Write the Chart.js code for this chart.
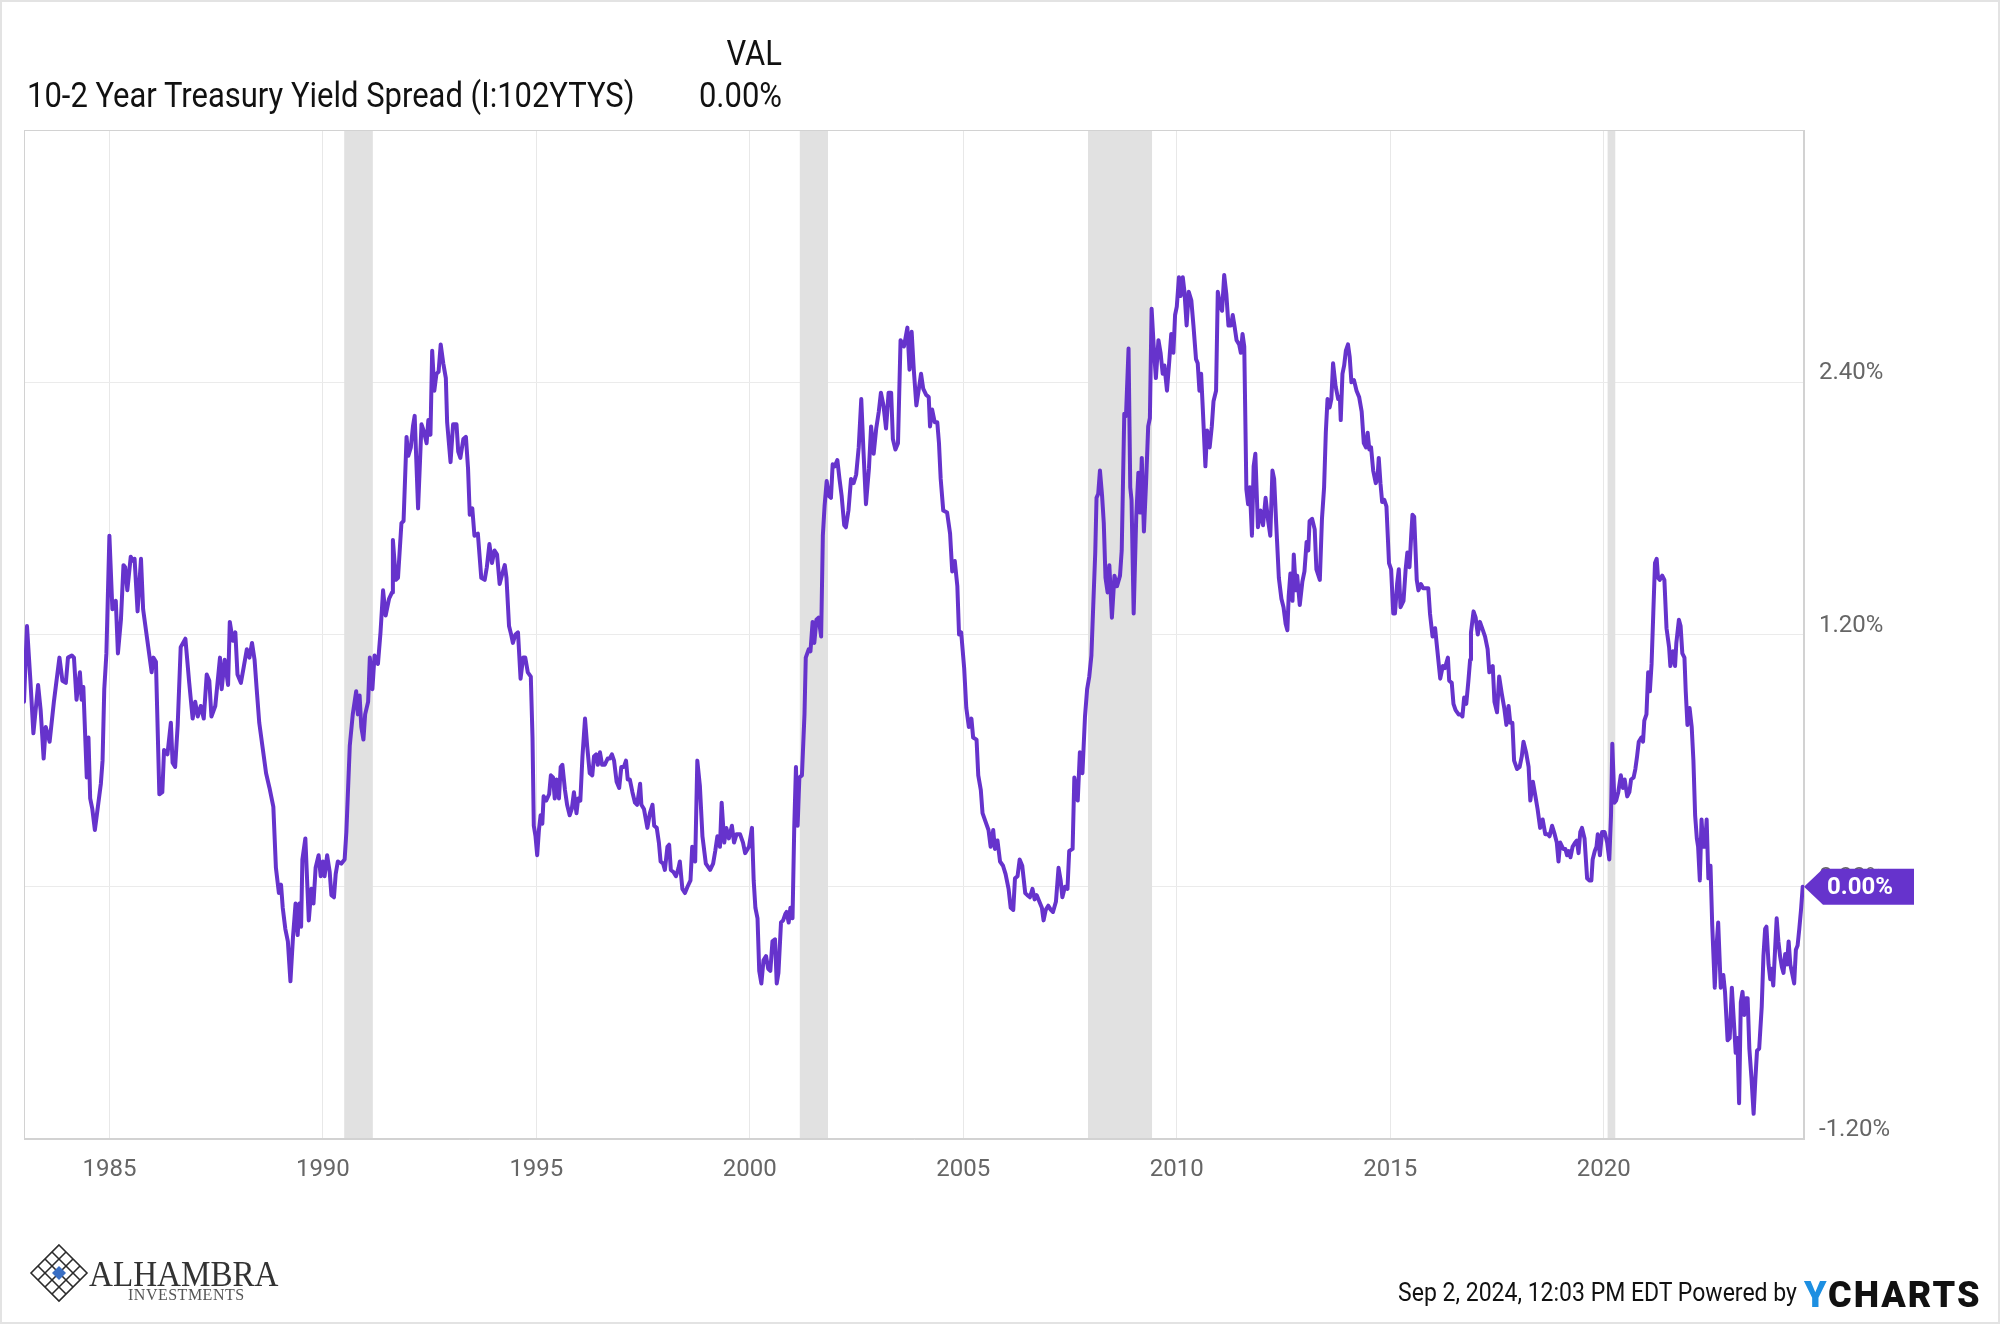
<!DOCTYPE html>
<html>
<head>
<meta charset="utf-8">
<script src="https://cdn.jsdelivr.net/npm/chart.js@4.4.1/dist/chart.umd.min.js"></script>
<style>
html,body{margin:0;padding:0;background:#fff;}
#wrap{position:relative;width:2000px;height:1324px;overflow:hidden;background:#fff;}
#c{position:absolute;left:0;top:0;}
.t{position:absolute;font-family:Roboto,'Noto Sans',sans-serif;line-height:1;white-space:nowrap;color:#111;}
.cond-l{transform:scaleX(0.885);transform-origin:left center;}
.cond-r{transform:scaleX(0.885);transform-origin:right center;text-align:right;}
#frame{position:absolute;left:0;top:0;width:2000px;height:1324px;box-sizing:border-box;border:2px solid #e3e3e3;pointer-events:none;}
.serif{position:absolute;font-family:'Liberation Serif','DejaVu Serif',serif;line-height:1;white-space:nowrap;}
</style>
</head>
<body>
<div id="wrap">
  <canvas id="c" width="2000" height="1324"></canvas>
  <div class="t cond-r" style="left:0;width:782px;top:36px;font-size:35px;">VAL</div>
  <div class="t cond-l" id="seriesName" style="left:27px;top:78px;font-size:35px;"></div>
  <div class="t cond-r" id="seriesVal" style="left:0;width:782px;top:78px;font-size:35px;"></div>

  <svg style="position:absolute;left:0;top:0" width="120" height="1324" viewBox="0 0 120 1324">
    <g stroke="#2b2b2b" stroke-width="1.6" fill="none">
      <path d="M59 1245 L87 1273 L59 1301 L31 1273 Z"/>
      <path d="M52 1252 L80 1280 M45 1259 L73 1287 M38 1266 L66 1294"/>
      <path d="M66 1252 L38 1280 M73 1259 L45 1287 M80 1266 L52 1294"/>
    </g>
    <path d="M59 1266 L66 1273 L59 1280 L52 1273 Z" fill="#3a6fc4"/>
  </svg>
  <div class="serif" style="left:89px;top:1256px;font-size:36px;color:#333;transform:scaleX(0.92);transform-origin:left center;">ALHAMBRA</div>
  <div class="serif" style="left:128px;top:1287px;font-size:16px;color:#555;letter-spacing:0.5px;">INVESTMENTS</div>

  <div class="t cond-r" id="stamp" style="left:0;width:1797px;top:1279px;font-size:26px;"></div>
  <div class="t" style="left:1804px;top:1277px;font-size:36px;font-weight:900;letter-spacing:2px;"><span style="color:#1d8fe1">Y</span><span style="color:#111">CHARTS</span></div>
  <div id="frame"></div>
</div>
<script>
// ---- DATA ----
const seriesTitle = '10-2 Year Treasury Yield Spread (I:102YTYS)';
const stampText = 'Sep 2, 2024, 12:03 PM EDT Powered by';
const xTickYears = [1985, 1990, 1995, 2000, 2005, 2010, 2015, 2020];
const yTickValues = [-1.2, 0, 1.2, 2.4, 3.6];
const recessions = [[1990.50, 1991.17], [2001.17, 2001.83], [2007.92, 2009.42], [2020.09, 2020.27]];

// [decimal year, spread %]
const obs1980s = [
[1983.00,0.88],[1983.07,1.24],[1983.15,0.98],[1983.22,0.73],[1983.33,0.96],[1983.39,0.84],[1983.46,0.61],[1983.51,0.76],[1983.60,0.69],[1983.70,0.88],[1983.83,1.09],[1983.90,0.98],[1983.98,0.97],
[1984.03,1.09],[1984.12,1.10],[1984.17,1.09],[1984.23,0.89],[1984.31,1.02],[1984.35,0.89],[1984.39,0.95],[1984.47,0.52],[1984.51,0.71],[1984.55,0.42],[1984.60,0.37],[1984.66,0.27],[1984.73,0.38],[1984.80,0.49],[1984.84,0.60],[1984.88,0.94],[1984.93,1.11],
[1985.00,1.67],[1985.07,1.32],[1985.15,1.36],[1985.20,1.11],[1985.27,1.27],[1985.33,1.53],[1985.37,1.52],[1985.42,1.41],[1985.50,1.57],[1985.56,1.55],[1985.59,1.56],[1985.66,1.31],[1985.74,1.56],[1985.79,1.32],[1985.89,1.17],[1985.99,1.02],
[1986.03,1.09],[1986.09,1.07],[1986.17,0.44],[1986.24,0.45],[1986.28,0.65],[1986.36,0.63],[1986.44,0.78],[1986.48,0.59],[1986.54,0.57],[1986.60,0.77],[1986.67,1.14],[1986.78,1.18],[1986.87,0.97],[1986.95,0.80],
[1987.01,0.88],[1987.07,0.81],[1987.14,0.86],[1987.21,0.80],[1987.28,1.01],[1987.34,0.98],[1987.39,0.81],[1987.48,0.86],[1987.59,1.09],[1987.63,0.94],[1987.70,1.08],[1987.78,0.96],[1987.82,1.26],[1987.89,1.17],[1987.95,1.21],
[1988.00,1.01],[1988.08,0.97],[1988.15,1.05],[1988.22,1.13],[1988.28,1.09],[1988.34,1.16],[1988.40,1.08],[1988.45,0.94],[1988.51,0.78],[1988.59,0.66],[1988.67,0.54],[1988.75,0.47],[1988.84,0.38],[1988.90,0.09],[1988.97,-0.03],
[1989.02,0.01],[1989.06,-0.10],[1989.12,-0.20],[1989.18,-0.26],[1989.24,-0.45],[1989.30,-0.24],[1989.36,-0.08],[1989.41,-0.23],[1989.45,-0.08],[1989.49,-0.19],[1989.52,0.13],[1989.59,0.23],[1989.67,-0.16],[1989.73,-0.01],[1989.78,-0.08],[1989.83,0.09],[1989.90,0.15],[1989.95,0.05]
];
const obs1990s = [
[1990.00,0.12],[1990.04,0.05],[1990.10,0.15],[1990.16,0.07],[1990.20,-0.04],[1990.26,-0.05],[1990.30,0.06],[1990.35,0.12],[1990.43,0.11],[1990.51,0.13],[1990.55,0.26],[1990.63,0.67],[1990.70,0.82],[1990.78,0.93],[1990.82,0.82],[1990.86,0.91],[1990.90,0.76],[1990.95,0.70],[1990.99,0.82],
[1991.06,0.88],[1991.10,1.09],[1991.16,0.94],[1991.21,1.10],[1991.29,1.06],[1991.35,1.21],[1991.41,1.41],[1991.47,1.29],[1991.55,1.37],[1991.62,1.40],[1991.64,1.65],[1991.71,1.46],[1991.76,1.47],[1991.84,1.73],[1991.89,1.74],[1991.96,2.14],
[1992.00,2.05],[1992.06,2.09],[1992.11,2.19],[1992.15,2.24],[1992.23,1.80],[1992.31,2.20],[1992.36,2.17],[1992.43,2.11],[1992.47,2.22],[1992.52,2.15],[1992.56,2.55],[1992.61,2.36],[1992.66,2.44],[1992.71,2.45],[1992.76,2.58],[1992.82,2.49],[1992.88,2.42],[1992.91,2.21],[1992.99,2.02],
[1993.05,2.20],[1993.13,2.20],[1993.17,2.07],[1993.22,2.04],[1993.29,2.13],[1993.35,2.14],[1993.40,1.99],[1993.44,1.77],[1993.50,1.80],[1993.55,1.67],[1993.63,1.68],[1993.71,1.47],[1993.79,1.46],[1993.84,1.52],[1993.90,1.63],[1993.96,1.54],
[1994.02,1.60],[1994.08,1.58],[1994.14,1.44],[1994.19,1.48],[1994.26,1.53],[1994.30,1.47],[1994.36,1.24],[1994.41,1.20],[1994.45,1.16],[1994.51,1.20],[1994.57,1.21],[1994.63,0.99],[1994.69,1.09],[1994.74,1.09],[1994.80,1.02],[1994.87,1.00],[1994.91,0.71],[1994.94,0.29],[1994.98,0.24],
[1995.02,0.15],[1995.06,0.27],[1995.10,0.34],[1995.14,0.30],[1995.17,0.43],[1995.23,0.41],[1995.30,0.44],[1995.34,0.53],[1995.39,0.52],[1995.43,0.42],[1995.47,0.51],[1995.53,0.42],[1995.57,0.57],[1995.61,0.58],[1995.67,0.46],[1995.72,0.39],[1995.78,0.34],[1995.83,0.37],[1995.88,0.45],[1995.94,0.35],[1995.98,0.42],
[1996.03,0.41],[1996.08,0.62],[1996.14,0.80],[1996.19,0.67],[1996.25,0.54],[1996.31,0.53],[1996.35,0.62],[1996.40,0.63],[1996.44,0.58],[1996.49,0.64],[1996.54,0.58],[1996.60,0.58],[1996.67,0.61],[1996.72,0.61],[1996.77,0.63],[1996.82,0.60],[1996.88,0.50],[1996.94,0.47],[1996.99,0.57],
[1997.05,0.57],[1997.10,0.60],[1997.14,0.51],[1997.19,0.51],[1997.25,0.45],[1997.31,0.40],[1997.36,0.39],[1997.43,0.49],[1997.46,0.39],[1997.52,0.37],[1997.60,0.28],[1997.66,0.35],[1997.72,0.39],[1997.76,0.29],[1997.82,0.28],[1997.87,0.21],[1997.91,0.12],[1997.97,0.11],
[1998.01,0.08],[1998.07,0.19],[1998.11,0.20],[1998.15,0.08],[1998.21,0.07],[1998.27,0.05],[1998.33,0.09],[1998.36,0.12],[1998.42,-0.01],[1998.48,-0.03],[1998.54,0.00],[1998.61,0.03],[1998.65,0.19],[1998.72,0.12],[1998.77,0.60],[1998.83,0.48],[1998.89,0.24],[1998.97,0.11],
[1999.07,0.08],[1999.14,0.11],[1999.19,0.17],[1999.24,0.24],[1999.30,0.19],[1999.34,0.40],[1999.40,0.21],[1999.45,0.28],[1999.51,0.23],[1999.58,0.29],[1999.63,0.21],[1999.69,0.25],[1999.77,0.25],[1999.84,0.21],[1999.89,0.16],[1999.98,0.19]
];
const obs2000s = [
[2000.05,0.28],[2000.09,0.03],[2000.13,-0.10],[2000.18,-0.15],[2000.22,-0.40],[2000.27,-0.46],[2000.32,-0.35],[2000.38,-0.33],[2000.43,-0.39],[2000.48,-0.40],[2000.53,-0.26],[2000.59,-0.25],[2000.63,-0.46],[2000.67,-0.41],[2000.73,-0.17],[2000.78,-0.16],[2000.83,-0.13],[2000.86,-0.12],[2000.91,-0.17],[2000.95,-0.10],
[2001.00,-0.15],[2001.04,0.28],[2001.08,0.57],[2001.12,0.29],[2001.16,0.52],[2001.22,0.53],[2001.28,0.82],[2001.31,1.09],[2001.38,1.13],[2001.42,1.12],[2001.47,1.26],[2001.51,1.16],[2001.56,1.27],[2001.61,1.28],[2001.67,1.19],[2001.71,1.67],[2001.75,1.81],[2001.80,1.93],[2001.85,1.86],[2001.90,1.85],[2001.94,2.01],[2001.99,2.00],
[2002.05,2.03],[2002.10,1.94],[2002.15,1.86],[2002.21,1.72],[2002.25,1.71],[2002.31,1.79],[2002.37,1.94],[2002.43,1.92],[2002.49,1.96],[2002.55,2.09],[2002.61,2.32],[2002.66,2.08],[2002.72,1.82],[2002.79,1.99],[2002.84,2.19],[2002.90,2.06],[2002.96,2.18],
[2003.02,2.26],[2003.07,2.35],[2003.13,2.29],[2003.19,2.18],[2003.25,2.35],[2003.31,2.35],[2003.35,2.13],[2003.41,2.08],[2003.47,2.11],[2003.53,2.60],[2003.61,2.57],[2003.69,2.66],[2003.74,2.46],[2003.79,2.64],[2003.84,2.46],[2003.90,2.29],[2003.96,2.37],
[2004.01,2.44],[2004.06,2.37],[2004.13,2.34],[2004.19,2.33],[2004.22,2.19],[2004.27,2.27],[2004.33,2.21],[2004.39,2.21],[2004.43,2.11],[2004.47,1.94],[2004.53,1.79],[2004.62,1.78],[2004.69,1.68],[2004.74,1.50],[2004.80,1.55],[2004.86,1.43],[2004.90,1.20],[2004.95,1.21],
[2005.02,1.04],[2005.07,0.85],[2005.13,0.76],[2005.19,0.80],[2005.23,0.71],[2005.31,0.70],[2005.35,0.53],[2005.41,0.46],[2005.45,0.35],[2005.52,0.31],[2005.59,0.27],[2005.64,0.19],[2005.70,0.27],[2005.74,0.18],[2005.80,0.22],[2005.86,0.12],[2005.93,0.10],[2005.99,0.06],
[2006.06,-0.01],[2006.11,-0.10],[2006.17,-0.11],[2006.21,0.04],[2006.27,0.05],[2006.32,0.13],[2006.38,0.10],[2006.45,-0.03],[2006.50,-0.04],[2006.56,-0.05],[2006.62,-0.01],[2006.67,-0.06],[2006.72,-0.04],[2006.78,-0.07],[2006.84,-0.10],[2006.88,-0.16],[2006.93,-0.11],[2006.99,-0.09],
[2007.05,-0.11],[2007.10,-0.12],[2007.17,-0.07],[2007.23,0.09],[2007.28,0.03],[2007.32,-0.05],[2007.38,0.00],[2007.44,-0.01],[2007.48,0.17],[2007.56,0.18],[2007.60,0.52],[2007.68,0.41],[2007.73,0.64],[2007.79,0.54],[2007.85,0.81],[2007.90,0.94],[2007.95,1.00],
[2008.00,1.10],[2008.04,1.32],[2008.09,1.59],[2008.12,1.85],[2008.16,1.87],[2008.20,1.98],[2008.25,1.86],[2008.29,1.73],[2008.33,1.47],[2008.38,1.40],[2008.42,1.53],[2008.48,1.28],[2008.54,1.48],[2008.60,1.43],[2008.67,1.48],[2008.71,1.60],[2008.77,2.25],[2008.81,2.24],[2008.87,2.56],[2008.91,1.90],[2008.94,1.84],[2008.99,1.30],
[2009.05,1.76],[2009.10,1.97],[2009.14,1.78],[2009.18,2.04],[2009.23,1.69],[2009.28,1.92],[2009.33,2.19],[2009.37,2.23],[2009.41,2.75],[2009.46,2.57],[2009.51,2.42],[2009.57,2.60],[2009.62,2.54],[2009.67,2.44],[2009.71,2.48],[2009.77,2.36],[2009.82,2.49],[2009.87,2.63],[2009.92,2.54],[2009.96,2.72]
];
const obs2010s = [
[2010.00,2.76],[2010.05,2.90],[2010.09,2.81],[2010.14,2.90],[2010.18,2.83],[2010.23,2.67],[2010.28,2.83],[2010.34,2.79],[2010.39,2.67],[2010.45,2.51],[2010.49,2.49],[2010.53,2.36],[2010.57,2.44],[2010.61,2.27],[2010.67,2.00],[2010.71,2.17],[2010.77,2.09],[2010.82,2.19],[2010.86,2.31],[2010.92,2.36],[2010.96,2.83],
[2011.02,2.76],[2011.06,2.74],[2011.11,2.91],[2011.16,2.82],[2011.21,2.67],[2011.27,2.67],[2011.31,2.72],[2011.35,2.67],[2011.40,2.60],[2011.46,2.58],[2011.50,2.54],[2011.54,2.63],[2011.58,2.57],[2011.63,1.89],[2011.67,1.82],[2011.71,1.90],[2011.76,1.67],[2011.80,2.00],[2011.84,2.06],[2011.90,1.71],[2011.96,1.79],
[2012.02,1.72],[2012.08,1.85],[2012.14,1.74],[2012.19,1.67],[2012.24,1.98],[2012.28,1.94],[2012.33,1.72],[2012.39,1.47],[2012.45,1.37],[2012.50,1.33],[2012.55,1.25],[2012.59,1.22],[2012.62,1.38],[2012.66,1.49],[2012.71,1.36],[2012.74,1.58],[2012.79,1.41],[2012.82,1.48],[2012.88,1.34],[2012.94,1.45],[2012.99,1.50],
[2013.04,1.64],[2013.08,1.60],[2013.11,1.74],[2013.17,1.75],[2013.23,1.70],[2013.27,1.51],[2013.35,1.46],[2013.40,1.75],[2013.45,1.90],[2013.49,2.16],[2013.53,2.32],[2013.58,2.28],[2013.62,2.32],[2013.66,2.49],[2013.72,2.38],[2013.78,2.32],[2013.82,2.33],[2013.84,2.22],[2013.88,2.44],[2013.92,2.48],[2013.96,2.55],
[2014.01,2.58],[2014.05,2.52],[2014.09,2.40],[2014.15,2.41],[2014.21,2.36],[2014.27,2.33],[2014.33,2.26],[2014.38,2.11],[2014.43,2.09],[2014.47,2.16],[2014.51,2.08],[2014.55,2.09],[2014.60,1.98],[2014.66,1.92],[2014.70,1.94],[2014.73,2.04],[2014.77,1.92],[2014.81,1.83],[2014.86,1.84],[2014.91,1.81],[2014.97,1.54],
[2015.02,1.51],[2015.07,1.30],[2015.11,1.30],[2015.16,1.44],[2015.20,1.51],[2015.24,1.33],[2015.31,1.36],[2015.36,1.51],[2015.40,1.59],[2015.45,1.52],[2015.49,1.67],[2015.52,1.77],[2015.56,1.76],[2015.62,1.46],[2015.66,1.41],[2015.72,1.44],[2015.77,1.42],[2015.84,1.42],[2015.89,1.42],[2015.93,1.30],[2015.99,1.19],
[2016.05,1.23],[2016.10,1.13],[2016.17,0.99],[2016.23,1.05],[2016.28,1.04],[2016.35,1.09],[2016.38,0.98],[2016.44,0.97],[2016.48,0.87],[2016.53,0.84],[2016.60,0.82],[2016.65,0.82],[2016.69,0.81],[2016.73,0.90],[2016.78,0.87],[2016.83,0.98],[2016.87,1.08],[2016.89,1.21],[2016.95,1.31],
[2017.00,1.28],[2017.05,1.20],[2017.10,1.26],[2017.17,1.22],[2017.22,1.19],[2017.28,1.13],[2017.32,1.02],[2017.36,1.04],[2017.40,1.05],[2017.44,0.88],[2017.50,0.83],[2017.55,1.00],[2017.61,0.92],[2017.67,0.85],[2017.72,0.77],[2017.77,0.86],[2017.81,0.78],[2017.86,0.78],[2017.90,0.60],[2017.97,0.56],
[2018.03,0.57],[2018.08,0.62],[2018.12,0.69],[2018.18,0.64],[2018.24,0.57],[2018.28,0.41],[2018.34,0.50],[2018.40,0.43],[2018.45,0.37],[2018.51,0.28],[2018.57,0.32],[2018.63,0.25],[2018.69,0.25],[2018.73,0.24],[2018.79,0.29],[2018.85,0.25],[2018.90,0.21],[2018.94,0.12],[2018.98,0.21],
[2019.05,0.18],[2019.10,0.18],[2019.14,0.15],[2019.18,0.17],[2019.22,0.14],[2019.27,0.19],[2019.33,0.21],[2019.37,0.22],[2019.41,0.16],[2019.45,0.26],[2019.49,0.28],[2019.55,0.23],[2019.61,0.04],[2019.66,0.03],[2019.71,0.03],[2019.74,0.13],[2019.79,0.17],[2019.83,0.19],[2019.86,0.25],[2019.91,0.15],[2019.96,0.26]
];
const obs2020s = [
[2020.02,0.26],[2020.08,0.21],[2020.13,0.13],[2020.17,0.34],[2020.20,0.68],[2020.25,0.40],[2020.29,0.41],[2020.34,0.45],[2020.40,0.53],[2020.45,0.47],[2020.49,0.51],[2020.55,0.43],[2020.60,0.45],[2020.64,0.51],[2020.70,0.52],[2020.74,0.56],[2020.78,0.62],[2020.82,0.69],[2020.88,0.71],[2020.92,0.69],[2020.95,0.79],
[2021.00,0.82],[2021.04,1.02],[2021.08,0.93],[2021.12,1.06],[2021.16,1.30],[2021.20,1.54],[2021.24,1.56],[2021.27,1.47],[2021.31,1.46],[2021.37,1.48],[2021.42,1.46],[2021.47,1.23],[2021.53,1.14],[2021.56,1.05],[2021.62,1.12],[2021.67,1.05],[2021.70,1.16],[2021.76,1.27],[2021.80,1.24],[2021.84,1.11],[2021.89,1.09],[2021.92,0.93],[2021.96,0.77],
[2022.01,0.85],[2022.06,0.76],[2022.10,0.60],[2022.14,0.34],[2022.18,0.23],[2022.21,0.19],[2022.25,0.03],[2022.29,0.32],[2022.33,0.19],[2022.37,0.19],[2022.41,0.32],[2022.45,0.04],[2022.50,0.10],[2022.54,-0.18],[2022.60,-0.48],[2022.64,-0.29],[2022.68,-0.17],[2022.74,-0.48],[2022.80,-0.42],[2022.84,-0.50],[2022.90,-0.73],[2022.95,-0.72],
[2023.00,-0.48],[2023.05,-0.65],[2023.09,-0.79],[2023.13,-0.72],[2023.17,-1.03],[2023.21,-0.55],[2023.25,-0.50],[2023.29,-0.61],[2023.33,-0.53],[2023.37,-0.53],[2023.41,-0.77],[2023.46,-0.91],[2023.51,-1.08],[2023.55,-0.92],[2023.59,-0.78],[2023.64,-0.77],[2023.70,-0.57],[2023.74,-0.33],[2023.78,-0.20],[2023.81,-0.19],[2023.86,-0.37],[2023.90,-0.44],[2023.93,-0.39],[2023.97,-0.47],
[2024.01,-0.31],[2024.05,-0.15],[2024.09,-0.26],[2024.13,-0.33],[2024.17,-0.38],[2024.21,-0.41],[2024.25,-0.32],[2024.29,-0.37],[2024.33,-0.26],[2024.37,-0.37],[2024.41,-0.41],[2024.46,-0.46],[2024.50,-0.30],[2024.54,-0.28],[2024.58,-0.20],[2024.62,-0.11],[2024.66,0.00]
];
const xMin = 1983.0, xMax = 2024.69;

// ---- BUILD ----
const points = [].concat(obs1980s, obs1990s, obs2000s, obs2010s, obs2020s).map(p => ({x: p[0], y: p[1]}));
const lastVal = points[points.length - 1].y;
const lastLabel = lastVal.toFixed(2) + '%';
document.getElementById('seriesName').textContent = seriesTitle;
document.getElementById('seriesVal').textContent = lastLabel;
document.getElementById('stamp').textContent = stampText;

const PURPLE = '#6633cc';

const decor = {
  id: 'decor',
  beforeDraw(chart) {
    const ctx = chart.ctx;
    ctx.save();
    ctx.fillStyle = '#fff';
    ctx.fillRect(0, 0, chart.width, chart.height);
    ctx.restore();
  },
  beforeDatasetsDraw(chart) {
    const {ctx, chartArea: a, scales: {x}} = chart;
    ctx.save();
    ctx.fillStyle = '#e1e1e1';
    recessions.forEach(([s, e]) => {
      const x0 = x.getPixelForValue(s), x1 = x.getPixelForValue(e);
      ctx.fillRect(x0, a.top, x1 - x0, a.bottom - a.top);
    });
    ctx.strokeStyle = '#d2d2d2';
    ctx.lineWidth = 1;
    ctx.strokeRect(a.left + 0.5, a.top + 0.5, a.right - a.left - 1, a.bottom - a.top - 1);
    ctx.restore();
  },
  afterDatasetsDraw(chart) {
    const {ctx, chartArea: a, scales: {y}} = chart;
    const py = y.getPixelForValue(lastVal);
    const x0 = a.right;
    ctx.save();
    ctx.fillStyle = PURPLE;
    ctx.beginPath();
    ctx.moveTo(x0, py);
    ctx.lineTo(x0 + 19, py - 18);
    ctx.lineTo(x0 + 110, py - 18);
    ctx.lineTo(x0 + 110, py + 18);
    ctx.lineTo(x0 + 19, py + 18);
    ctx.closePath();
    ctx.fill();
    ctx.fillStyle = '#fff';
    ctx.font = 'bold 24px Roboto';
    ctx.textAlign = 'left';
    ctx.textBaseline = 'middle';
    ctx.fillText(lastLabel, x0 + 23, py + 1);
    ctx.restore();
  }
};

new Chart(document.getElementById('c'), {
  type: 'line',
  data: {
    datasets: [{
      data: points,
      borderColor: PURPLE,
      borderWidth: 4,
      pointRadius: 0,
      tension: 0,
      borderJoinStyle: 'round',
      borderCapStyle: 'round',
      fill: false
    }]
  },
  options: {
    responsive: false,
    animation: false,
    devicePixelRatio: 1,
    layout: {padding: {left: 24, top: 130, right: 0, bottom: 0}},
    plugins: {legend: {display: false}, tooltip: {enabled: false}},
    scales: {
      x: {
        type: 'linear',
        min: xMin,
        max: xMax,
        afterBuildTicks: s => { s.ticks = xTickYears.map(v => ({value: v})); },
        afterFit: s => { s.height = 185; },
        ticks: {
          callback: v => String(v),
          font: {family: 'Roboto', size: 24},
          color: '#666',
          padding: 17,
          maxRotation: 0,
          autoSkip: false
        },
        grid: {color: '#e8e8e8', drawTicks: false, lineWidth: 1},
        border: {display: true, color: '#d2d2d2'}
      },
      y: {
        position: 'right',
        min: -1.2,
        max: 3.6,
        afterBuildTicks: s => { s.ticks = yTickValues.map(v => ({value: v})); },
        afterFit: s => { s.width = 196; },
        ticks: {
          callback: v => (Math.abs(v - 3.6) < 1e-6 ? '' : v.toFixed(2) + '%'),
          font: {family: 'Roboto', size: 24},
          color: '#666',
          padding: 15,
          labelOffset: -9
        },
        grid: {color: '#ebebeb', drawTicks: false, lineWidth: 1},
        border: {display: true, color: '#d2d2d2'}
      }
    }
  },
  plugins: [decor]
});
</script>
</body>
</html>
